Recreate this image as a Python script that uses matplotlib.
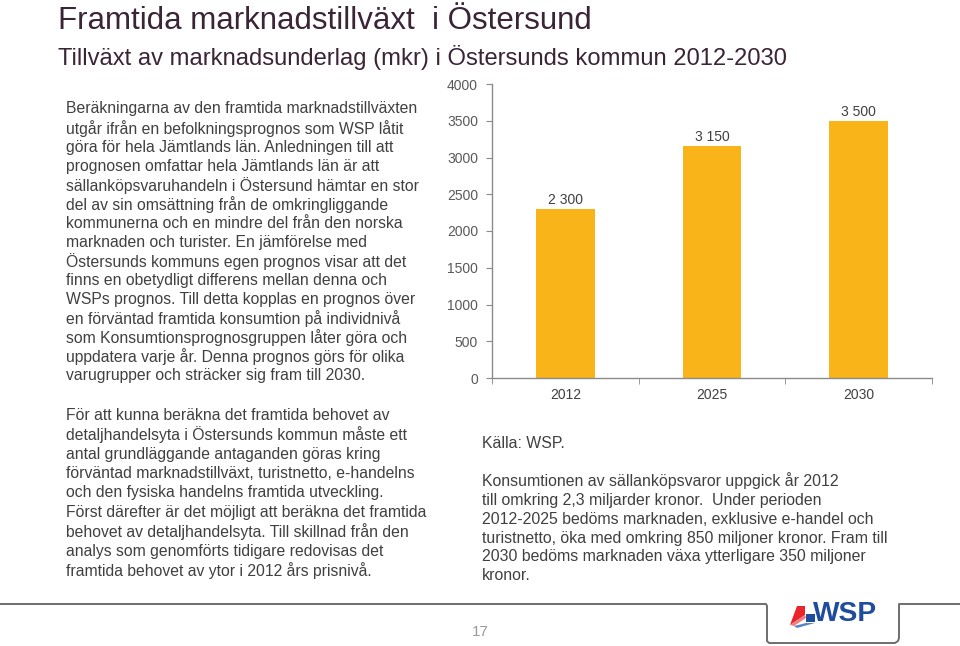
import matplotlib
matplotlib.use('Agg')
import matplotlib.pyplot as plt
from matplotlib.lines import Line2D
from matplotlib.patches import Polygon

# ---------------- data ----------------
years = ['2012', '2025', '2030']
values = [2300, 3150, 3500]
value_labels = ['2 300', '3 150', '3 500']
yticks = [0, 500, 1000, 1500, 2000, 2500, 3000, 3500, 4000]

title = 'Framtida marknadstillväxt  i Östersund'
subtitle = 'Tillväxt av marknadsunderlag (mkr) i Östersunds kommun 2012-2030'

para1 = [
    'Beräkningarna av den framtida marknadstillväxten',
    'utgår ifrån en befolkningsprognos som WSP låtit',
    'göra för hela Jämtlands län. Anledningen till att',
    'prognosen omfattar hela Jämtlands län är att',
    'sällanköpsvaruhandeln i Östersund hämtar en stor',
    'del av sin omsättning från de omkringliggande',
    'kommunerna och en mindre del från den norska',
    'marknaden och turister. En jämförelse med',
    'Östersunds kommuns egen prognos visar att det',
    'finns en obetydligt differens mellan denna och',
    'WSPs prognos. Till detta kopplas en prognos över',
    'en förväntad framtida konsumtion på individnivå',
    'som Konsumtionsprognosgruppen låter göra och',
    'uppdatera varje år. Denna prognos görs för olika',
    'varugrupper och sträcker sig fram till 2030.',
]
para2 = [
    'För att kunna beräkna det framtida behovet av',
    'detaljhandelsyta i Östersunds kommun måste ett',
    'antal grundläggande antaganden göras kring',
    'förväntad marknadstillväxt, turistnetto, e-handelns',
    'och den fysiska handelns framtida utveckling.',
    'Först därefter är det möjligt att beräkna det framtida',
    'behovet av detaljhandelsyta. Till skillnad från den',
    'analys som genomförts tidigare redovisas det',
    'framtida behovet av ytor i 2012 års prisnivå.',
]
source = 'Källa: WSP.'
para3 = [
    'Konsumtionen av sällanköpsvaror uppgick år 2012',
    'till omkring 2,3 miljarder kronor.  Under perioden',
    '2012-2025 bedöms marknaden, exklusive e-handel och',
    'turistnetto, öka med omkring 850 miljoner kronor. Fram till',
    '2030 bedöms marknaden växa ytterligare 350 miljoner',
    'kronor.',
]
page_no = '17'

# ---------------- layout ----------------
W, H = 960, 646
FONT = ['Liberation Sans', 'DejaVu Sans']
plt.rcParams['font.family'] = FONT
fig = plt.figure(figsize=(W / 100, H / 100), dpi=100)
fig.patch.set_facecolor('white')
renderer = fig.canvas.get_renderer()


def fx(x):
    return x / W


def fy(y):
    return 1 - y / H


def fit(s, target, weight='normal'):
    t = fig.text(0, 0, s, fontsize=10, fontweight=weight)
    w = t.get_window_extent(renderer).width
    t.remove()
    return 10 * target / w


TITLE_C = '#3a2436'
BODY_C = '#404040'

fig.text(fx(58), fy(21), title, fontsize=fit(title, 536), color=TITLE_C,
         va='center', ha='left')
fig.text(fx(58), fy(57), subtitle, fontsize=fit(subtitle, 732), color=TITLE_C,
         va='center', ha='left')

fs_body = fit(para1[0], 352)
for i, line in enumerate(para1):
    fig.text(fx(66), fy(109 + i * 19.05), line, fontsize=fs_body, color=BODY_C,
             va='center', ha='left')
for i, line in enumerate(para2):
    fig.text(fx(66), fy(415 + i * 19.5), line, fontsize=fs_body, color=BODY_C,
             va='center', ha='left')
fs_r = fit(para3[0], 357)
fig.text(fx(482), fy(443), source, fontsize=fs_r, color=BODY_C, va='center', ha='left')
for i, line in enumerate(para3):
    fig.text(fx(482), fy(481 + i * 19.0), line, fontsize=fs_r, color=BODY_C,
             va='center', ha='left')

# ---------------- chart ----------------
ax = fig.add_axes([fx(492), fy(378), fx(932) - fx(492), (378 - 84) / H])
x = list(range(len(years)))
ax.bar(x, values, width=0.4, color='#F9B41A', zorder=2)
ax.set_xlim(-0.5, len(years) - 0.5)
ax.set_ylim(0, 4000)
for s in ['top', 'right']:
    ax.spines[s].set_visible(False)
for s in ['left', 'bottom']:
    ax.spines[s].set_color('#8a8a8a')
    ax.spines[s].set_linewidth(1.0)
ax.set_yticks(yticks)
ax.set_yticklabels([str(v) for v in yticks])
ax.tick_params(axis='y', direction='out', length=4, color='#8a8a8a', pad=6,
               labelsize=10, labelcolor='#595959')
ax.set_xticks(x)
ax.set_xticklabels(years)
ax.tick_params(axis='x', which='major', length=0, pad=7, labelsize=10,
               labelcolor='#404040')
ax.set_xticks([i - 0.5 for i in range(len(years) + 1)], minor=True)
ax.tick_params(axis='x', which='minor', direction='out', length=4, color='#8a8a8a')
for xi, v, lab in zip(x, values, value_labels):
    ax.annotate(lab, (xi, v), xytext=(0, 9), textcoords='offset pixels',
                ha='center', va='center', fontsize=10, color='#404040')

# ---------------- footer ----------------
fx_pts = [0, 766, 767, 767, 769, 895, 898, 899, 899, 960]
fy_pts = [604, 604, 606, 641, 643, 643, 641, 638, 604, 604]
fig.add_artist(Line2D([fx(v) for v in fx_pts], [fy(v) for v in fy_pts],
                      transform=fig.transFigure, color='#6e6e6e', lw=1.4))
fig.text(fx(480), fy(632), page_no, fontsize=11, color='#9a9a9a',
         ha='center', va='center')

# WSP logo
fig.text(fx(813), fy(614), 'WSP', fontsize=fit('WSP', 64, 'bold'), fontweight='bold',
         color='#1f4c9c', ha='left', va='center')
logo_shapes = [
    ([(797, 606), (805, 606), (805, 615), (790, 625)], '#e8262b'),
    ([(790, 625), (805, 615), (806, 618), (794, 626)], '#f07f80'),
    ([(806, 614), (815, 614), (815, 622), (806, 622)], '#1f4c9c'),
    ([(794, 626), (806, 623), (815, 623), (797, 628)], '#5b86c6'),
]
for pts, c in logo_shapes:
    fig.add_artist(Polygon([(fx(a), fy(b)) for a, b in pts], closed=True,
                           transform=fig.transFigure, facecolor=c, edgecolor='none'))

fig.savefig('out.png', dpi=100, facecolor='white')
